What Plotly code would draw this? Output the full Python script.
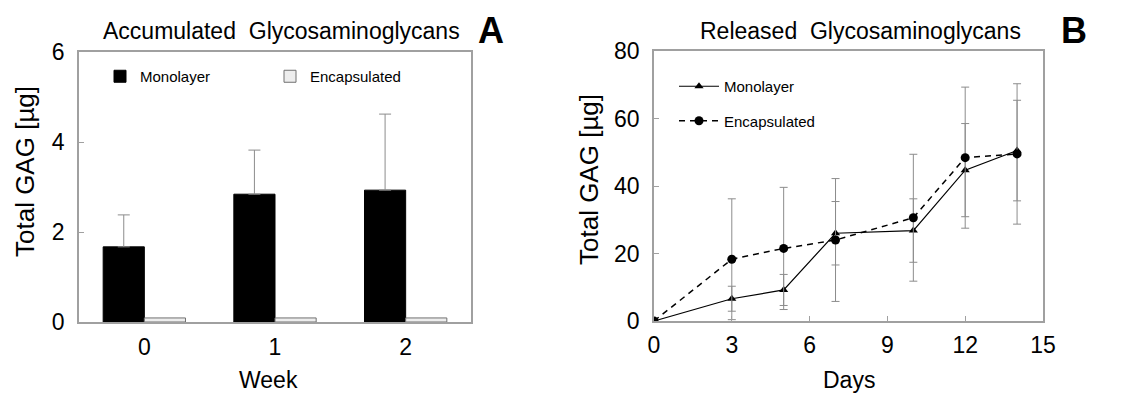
import plotly.graph_objects as go

# ---- Panel A data ----
weeks = [0, 1, 2]
week_labels = ["0", "1", "2"]
acc_mono = [1.67, 2.84, 2.93]
acc_mono_err = [0.71, 0.98, 1.69]
acc_encap = [0.09, 0.09, 0.09]

# ---- Panel B data ----
days = [0, 3, 5, 7, 10, 12, 14]
rel_mono = [0.0, 6.6, 9.2, 26.0, 26.8, 44.7, 50.5]
rel_mono_err = [0.0, 3.7, 4.6, 9.4, 9.4, 13.8, 14.9]
rel_encap = [0.0, 18.3, 21.5, 24.0, 30.6, 48.4, 49.5]
rel_encap_err = [0.0, 17.9, 18.1, 18.2, 18.8, 20.9, 20.8]

FONT = "Liberation Sans, Arial, sans-serif"
FRAME = "#a0a0a0"
ERR = "#8c8c8c"

fig = go.Figure()

fig.add_trace(go.Bar(
    x=weeks, y=acc_mono, name="Monolayer",
    marker=dict(color="black", line=dict(color="black", width=1)),
    error_y=dict(type="data", symmetric=False, array=acc_mono_err,
                 arrayminus=[0] * len(acc_mono_err), color=ERR, thickness=1, width=6),
    xaxis="x", yaxis="y", legend="legend",
))
fig.add_trace(go.Bar(
    x=weeks, y=acc_encap, name="Encapsulated",
    marker=dict(color="#ededed", line=dict(color="#707070", width=1)),
    xaxis="x", yaxis="y", legend="legend",
))

fig.add_trace(go.Scatter(
    x=days, y=rel_mono, name="Monolayer", mode="lines+markers",
    line=dict(color="black", width=1.2),
    marker=dict(symbol="triangle-up", size=8, color="black"),
    error_y=dict(type="data", array=rel_mono_err, color=ERR, thickness=1, width=4),
    xaxis="x2", yaxis="y2", legend="legend2", legendgroup="m",
))
fig.add_trace(go.Scatter(
    x=days, y=rel_encap, name="Encapsulated", mode="lines+markers",
    line=dict(color="black", width=1.5, dash="6px,5px"),
    marker=dict(symbol="circle", size=9, color="black"),
    error_y=dict(type="data", array=rel_encap_err, color=ERR, thickness=1, width=4),
    xaxis="x2", yaxis="y2", legend="legend2", legendgroup="e",
))

ax_common = dict(showline=True, linecolor=FRAME, linewidth=1.5, mirror=True,
                 showgrid=False, zeroline=False, automargin=False,
                 tickfont=dict(family=FONT, size=23, color="black"))

fig.update_layout(
    width=1123, height=396,
    margin=dict(l=0, r=0, t=0, b=0, autoexpand=False),
    paper_bgcolor="white", plot_bgcolor="white",
    font=dict(family=FONT, color="black"),
    barmode="group", bargap=0.37, bargroupgap=0,
    xaxis=dict(domain=[79 / 1123, 471 / 1123], range=[-0.5, 2.5],
               tickmode="array", tickvals=weeks, ticktext=week_labels,
               ticks="", ticklabelstandoff=4, anchor="y", **ax_common),
    yaxis=dict(domain=[74 / 396, 344 / 396], range=[0, 6], tickvals=[0, 2, 4, 6],
               ticks="inside", ticklen=5, tickcolor=FRAME, ticklabelstandoff=8,
               anchor="x", **ax_common),
    xaxis2=dict(domain=[654 / 1123, 1043 / 1123], range=[0, 15],
                tickvals=[0, 3, 6, 9, 12, 15],
                ticks="inside", ticklen=5, tickcolor=FRAME, ticklabelstandoff=3,
                anchor="y2", **ax_common),
    yaxis2=dict(domain=[75 / 396, 345 / 396], range=[0, 80], tickvals=[0, 20, 40, 60, 80],
                ticks="inside", ticklen=5, tickcolor=FRAME, ticklabelstandoff=8,
                anchor="x2", **ax_common),
    legend=dict(orientation="h", x=100 / 1123, y=(396 - 60) / 396, xanchor="left", yanchor="top",
                font=dict(family=FONT, size=15), bgcolor="rgba(0,0,0,0)",
                itemwidth=30, entrywidth=125, traceorder="normal"),
    legend2=dict(orientation="v", x=674 / 1123, y=(396 - 70) / 396, xanchor="left", yanchor="top",
                 font=dict(family=FONT, size=15), bgcolor="rgba(0,0,0,0)",
                 itemwidth=40, tracegroupgap=12, traceorder="grouped"),
    showlegend=True,
)

annotations = [
    dict(text="Accumulated  Glycosaminoglycans", x=281 / 1123, y=1 - 31 / 396,
         font=dict(size=23)),
    dict(text="<b>A</b>", x=491 / 1123, y=1 - 30 / 396, font=dict(size=36)),
    dict(text="Released  Glycosaminoglycans", x=860 / 1123, y=1 - 31 / 396,
         font=dict(size=23)),
    dict(text="<b>B</b>", x=1074 / 1123, y=1 - 30 / 396, font=dict(size=36)),
    dict(text="Week", x=268 / 1123, y=1 - 380 / 396, font=dict(size=23)),
    dict(text="Days", x=849 / 1123, y=1 - 380 / 396, font=dict(size=23)),
    dict(text="Total GAG [µg]", x=25 / 1123, y=1 - 172 / 396, textangle=-90,
         font=dict(size=26)),
    dict(text="Total GAG [µg]", x=589 / 1123, y=1 - 180 / 396, textangle=-90,
         font=dict(size=26)),
]
for a in annotations:
    a.update(xref="paper", yref="paper", showarrow=False, xanchor="center", yanchor="middle")
    a["font"].update(family=FONT, color="black")
fig.update_layout(annotations=annotations)

fig.write_html("out.html")
